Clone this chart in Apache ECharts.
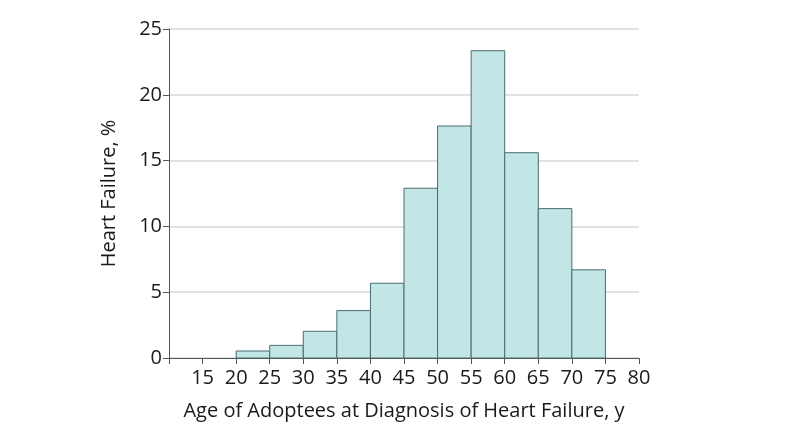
<!DOCTYPE html>
<html><head><meta charset="utf-8">
<script src="https://cdn.jsdelivr.net/npm/echarts@6/dist/echarts.min.js"></script>
<style>html,body{margin:0;padding:0;background:#fff}#c{width:794px;height:441px}</style>
</head><body><div id="c"></div>
<script>
var binStarts = [20, 25, 30, 35, 40, 45, 50, 55, 60, 65, 70];
var binWidth = 5;
var percents = [0.53, 0.96, 2.03, 3.6, 5.68, 12.9, 17.63, 23.35, 15.6, 11.35, 6.7];
var xTicks = [15, 20, 25, 30, 35, 40, 45, 50, 55, 60, 65, 70, 75, 80];
var yTicks = [0, 5, 10, 15, 20, 25];

var data = binStarts.map(function (s, i) { return [s, s + binWidth, percents[i]]; });
var font = '"Open Sans", sans-serif';
var chart = echarts.init(document.getElementById('c'), null, {renderer: 'canvas'});
chart.setOption({
  animation: false,
  grid: {left: 169, right: 155, top: 29, bottom: 83},
  xAxis: {
    type: 'value', min: 10, max: 80, interval: 5,
    name: 'Age of Adoptees at Diagnosis of Heart Failure, y',
    nameLocation: 'middle', nameGap: 43,
    nameTextStyle: {fontSize: 20, color: '#1a1a1a', fontFamily: font},
    axisLine: {show: true, lineStyle: {color: '#555', width: 1}},
    axisTick: {show: true, length: 6, lineStyle: {color: '#555'}},
    axisLabel: {fontSize: 20, color: '#1a1a1a', fontFamily: font, margin: 10,
      formatter: function (v) { return xTicks.indexOf(v) >= 0 ? String(v) : ''; }},
    splitLine: {show: false}
  },
  yAxis: {
    type: 'value', min: 0, max: 25, interval: 5,
    name: 'Heart Failure, %',
    nameLocation: 'middle', nameGap: 50,
    nameTextStyle: {fontSize: 20, color: '#1a1a1a', fontFamily: font},
    axisLine: {show: true, lineStyle: {color: '#555', width: 1}},
    axisTick: {show: true, length: 6, lineStyle: {color: '#555'}},
    axisLabel: {fontSize: 20, color: '#1a1a1a', fontFamily: font, margin: 7,
      formatter: function (v) { return yTicks.indexOf(v) >= 0 ? String(v) : ''; }},
    splitLine: {show: true, lineStyle: {color: '#d9d9d9', width: 1.5}}
  },
  series: [{
    type: 'custom',
    data: data,
    encode: {x: [0, 1], y: 2},
    renderItem: function (params, api) {
      var p0 = api.coord([api.value(0), api.value(2)]);
      var p1 = api.coord([api.value(1), 0]);
      return {
        type: 'rect',
        shape: {x: p0[0], y: p0[1], width: p1[0] - p0[0], height: p1[1] - p0[1]},
        style: {fill: '#c2e6e5', stroke: '#4a6c6d', lineWidth: 1}
      };
    }
  }]
});
</script></body></html>
